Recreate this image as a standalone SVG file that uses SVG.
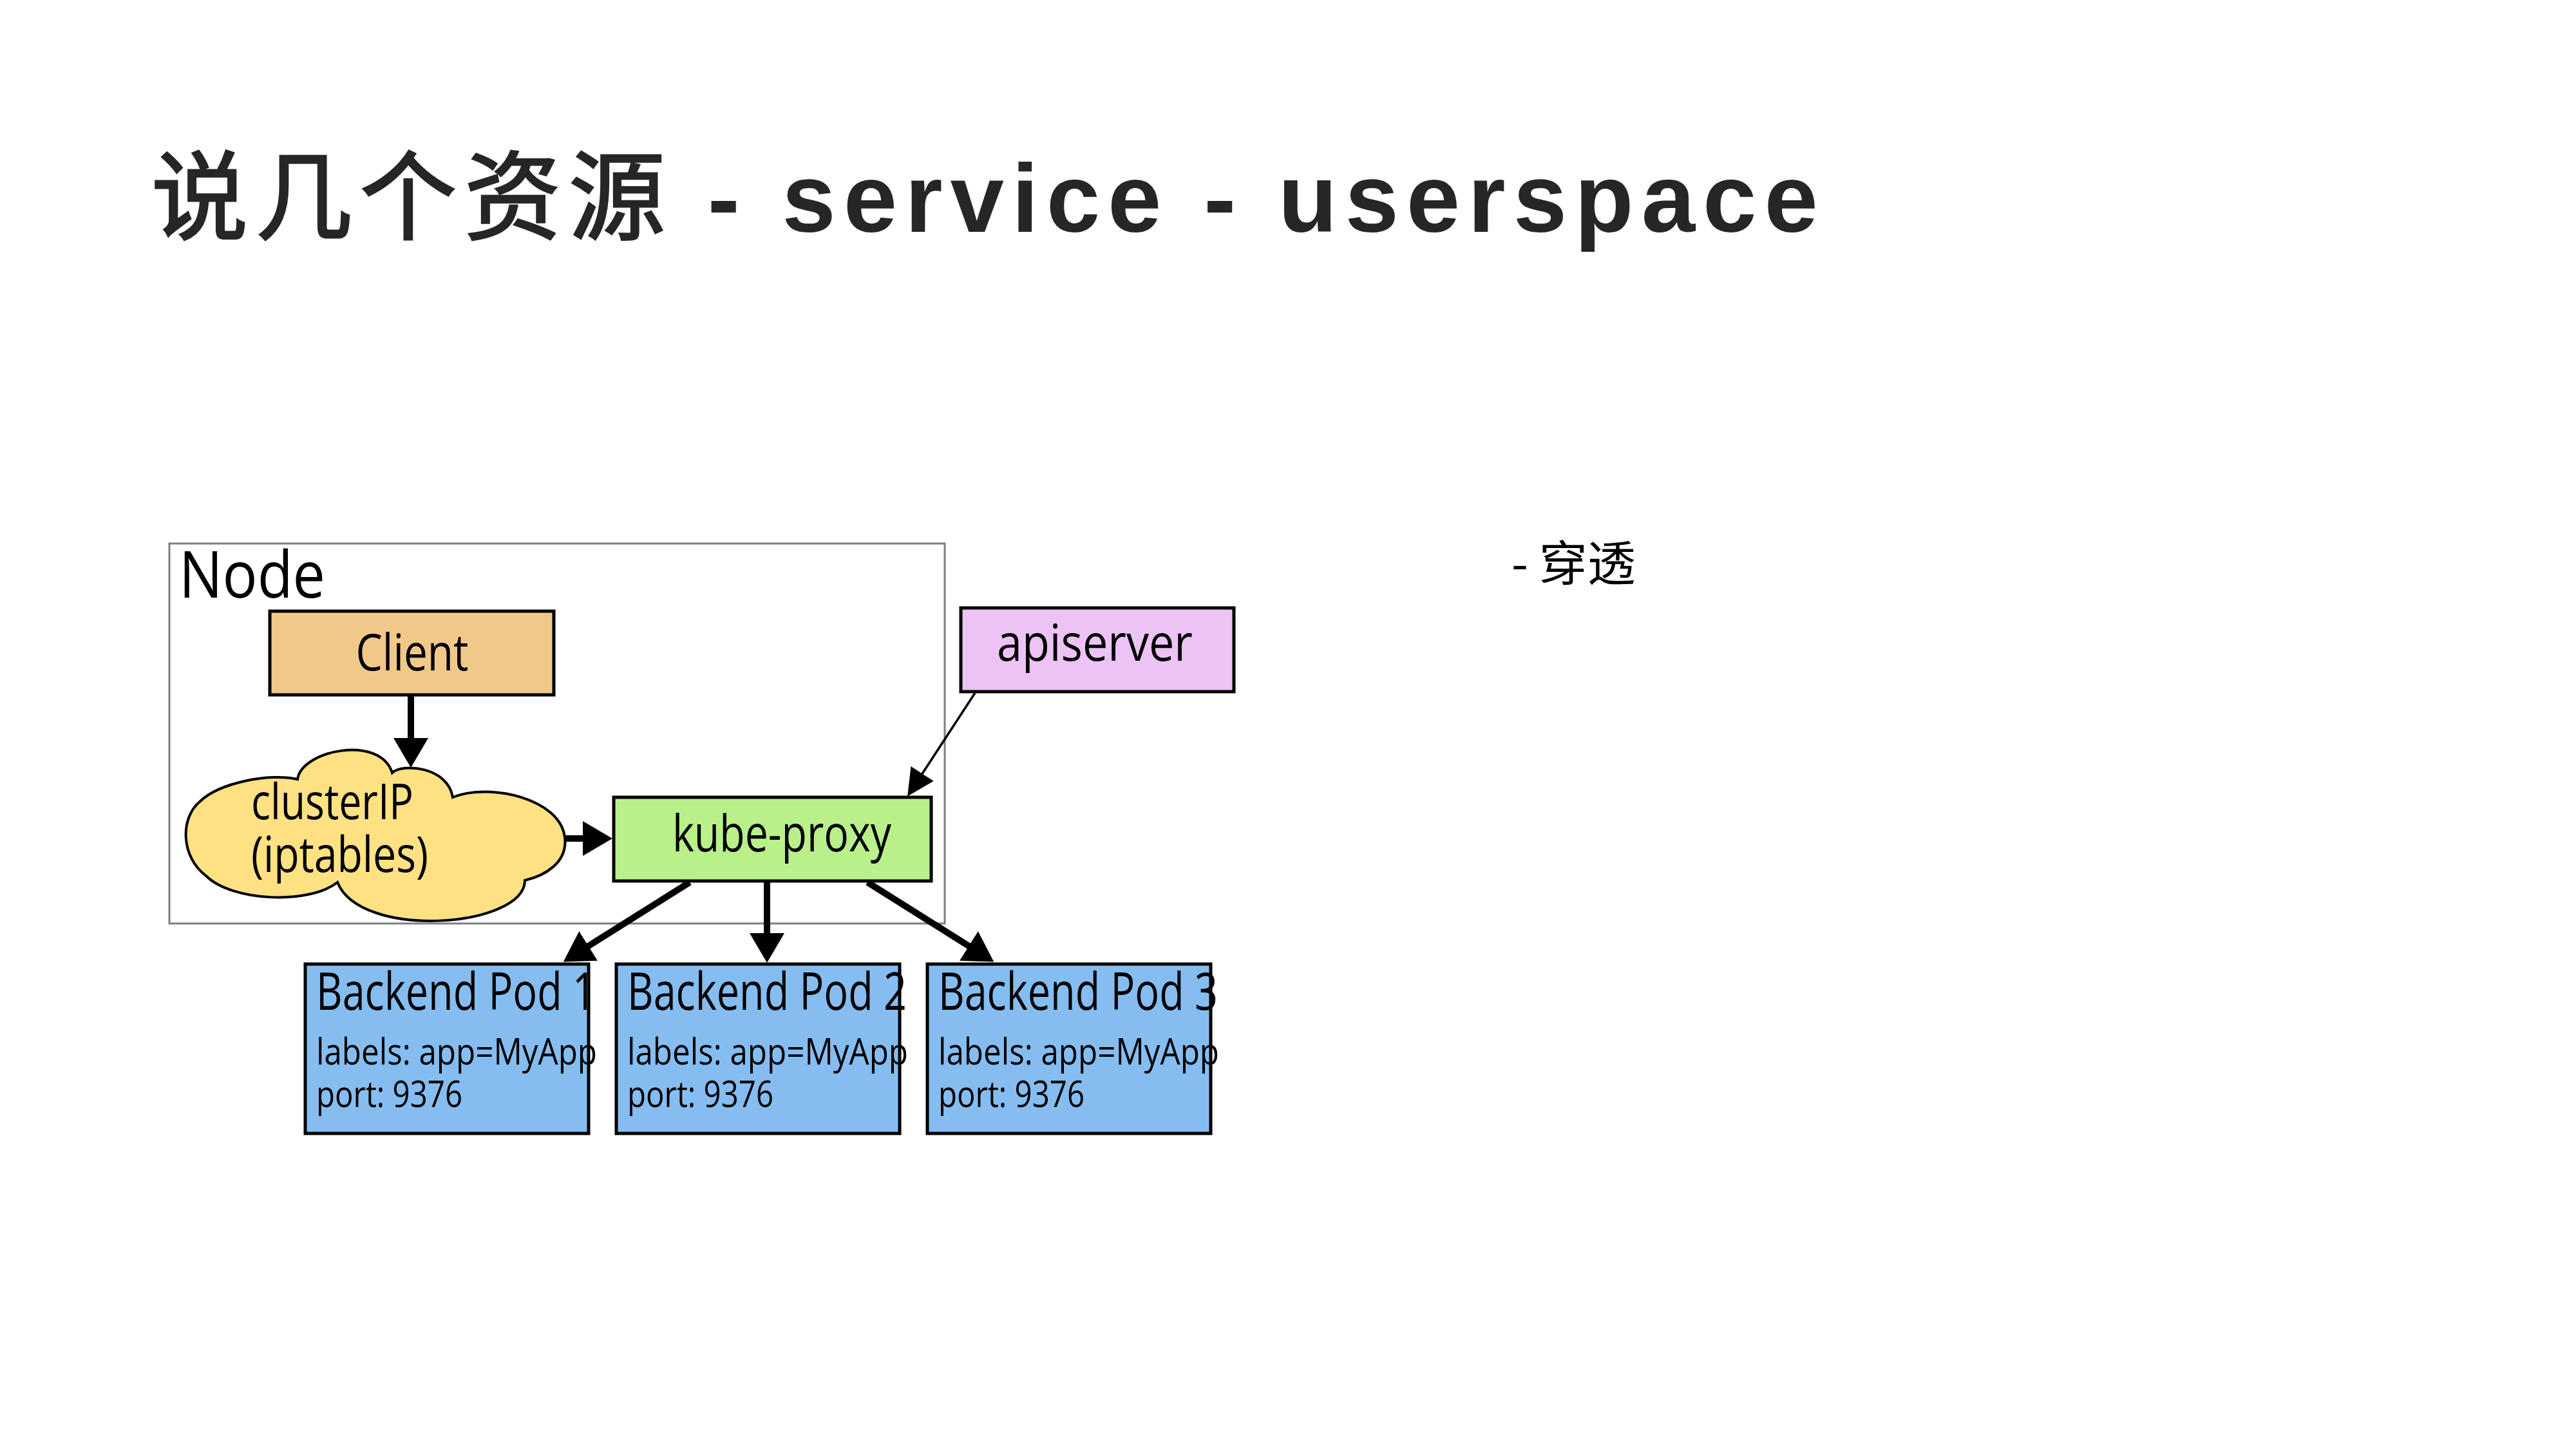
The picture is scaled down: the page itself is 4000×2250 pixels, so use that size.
<svg xmlns="http://www.w3.org/2000/svg" width="4000" height="2250" viewBox="0 0 4000 2250">
<defs>
<style>
.title{font-family:"Liberation Sans","Noto Sans CJK SC",sans-serif;font-weight:bold;font-size:150px;letter-spacing:12px;fill:#262626}
.cjk{font-family:"Noto Sans CJK SC",sans-serif;font-weight:normal;stroke:#262626;stroke-width:3}
.lbl{font-family:"Open Sans","Noto Sans",sans-serif;fill:#000}
.box{stroke:#000;stroke-width:5}
.thick{stroke:#000;stroke-width:10;fill:none}
.thin{stroke:#000;stroke-width:3.5;fill:none}
.note{font-family:"Noto Sans CJK SC","Noto Sans",sans-serif;font-size:75px;fill:#000}
</style>
<marker id="ahThick" markerUnits="userSpaceOnUse" markerWidth="46" markerHeight="54" refX="2" refY="27" orient="auto">
<path d="M0,0 L46,27 L0,54 z" fill="#000"/>
</marker>
<marker id="ahThin" markerUnits="userSpaceOnUse" markerWidth="42" markerHeight="42" refX="2" refY="21" orient="auto">
<path d="M0,0 L42,21 L0,42 z" fill="#000"/>
</marker>
</defs>
<rect width="4000" height="2250" fill="#fff"/>
<text class="title" x="235" y="360"><tspan class="cjk">说几个资源</tspan> - service - userspace</text>
<text class="note" x="2347" y="902">- 穿透</text>

<g id="node-frame">
<rect x="263" y="844" width="1204" height="590" fill="none" stroke="#7f7f7f" stroke-width="3"/>
<text class="lbl" x="278" y="928" font-size="100" textLength="227" lengthAdjust="spacingAndGlyphs">Node</text>
</g>

<g id="client">
<rect class="box" x="419" y="949" width="441" height="130" fill="#F0C98A"/>
<text class="lbl" x="640" y="1041" font-size="78" text-anchor="middle" textLength="175" lengthAdjust="spacingAndGlyphs">Client</text>
</g>

<g id="clusterip">
<path d="M462,1210 C468,1165 590,1140 609,1200 C625,1185 695,1190 703,1238 C760,1215 870,1240 877,1300 C882,1340 845,1360 815,1367 C815,1440 560,1460 524,1370 C480,1405 360,1400 320,1360 C280,1330 280,1270 310,1245 C340,1215 420,1200 462,1210 Z" fill="#FDE183" stroke="#000" stroke-width="4"/>
<text class="lbl" x="390" y="1272" font-size="76" textLength="252" lengthAdjust="spacingAndGlyphs">clusterIP</text>
<text class="lbl" x="390" y="1354" font-size="76" textLength="275" lengthAdjust="spacingAndGlyphs">(iptables)</text>
</g>

<g id="apiserver">
<rect class="box" x="1492" y="944" width="424" height="130" fill="#ECC3F4"/>
<text class="lbl" x="1700" y="1026" font-size="78" text-anchor="middle" textLength="304" lengthAdjust="spacingAndGlyphs">apiserver</text>
</g>

<g id="kube-proxy">
<rect class="box" x="953" y="1238" width="493" height="130" fill="#B9F08A"/>
<text class="lbl" x="1214" y="1322" font-size="78" text-anchor="middle" textLength="340" lengthAdjust="spacingAndGlyphs">kube-proxy</text>
</g>

<g id="pod1">
<rect class="box" x="474" y="1497" width="440" height="263" fill="#85BDF0"/>
<text class="lbl" x="491" y="1568" font-size="80" textLength="434" lengthAdjust="spacingAndGlyphs">Backend Pod 1</text>
<text class="lbl" x="491" y="1653" font-size="56" textLength="436" lengthAdjust="spacingAndGlyphs">labels: app=MyApp</text>
<text class="lbl" x="491" y="1719" font-size="56" textLength="227" lengthAdjust="spacingAndGlyphs">port: 9376</text>
</g>

<g id="pod2">
<rect class="box" x="957" y="1497" width="440" height="263" fill="#85BDF0"/>
<text class="lbl" x="974" y="1568" font-size="80" textLength="434" lengthAdjust="spacingAndGlyphs">Backend Pod 2</text>
<text class="lbl" x="974" y="1653" font-size="56" textLength="436" lengthAdjust="spacingAndGlyphs">labels: app=MyApp</text>
<text class="lbl" x="974" y="1719" font-size="56" textLength="227" lengthAdjust="spacingAndGlyphs">port: 9376</text>
</g>

<g id="pod3">
<rect class="box" x="1440" y="1497" width="440" height="263" fill="#85BDF0"/>
<text class="lbl" x="1457" y="1568" font-size="80" textLength="434" lengthAdjust="spacingAndGlyphs">Backend Pod 3</text>
<text class="lbl" x="1457" y="1653" font-size="56" textLength="436" lengthAdjust="spacingAndGlyphs">labels: app=MyApp</text>
<text class="lbl" x="1457" y="1719" font-size="56" textLength="227" lengthAdjust="spacingAndGlyphs">port: 9376</text>
</g>

<g id="connectors">
<line class="thick" x1="638" y1="1081" x2="638" y2="1148" marker-end="url(#ahThick)"/>
<line class="thick" x1="877" y1="1302" x2="907" y2="1302" marker-end="url(#ahThick)"/>
<line class="thin" x1="1514" y1="1076" x2="1431" y2="1203" marker-end="url(#ahThin)"/>
<line class="thick" x1="1071" y1="1370" x2="912" y2="1470" marker-end="url(#ahThick)"/>
<line class="thick" x1="1191" y1="1370" x2="1191" y2="1451" marker-end="url(#ahThick)"/>
<line class="thick" x1="1347" y1="1370" x2="1506" y2="1470" marker-end="url(#ahThick)"/>
</g>
</svg>
